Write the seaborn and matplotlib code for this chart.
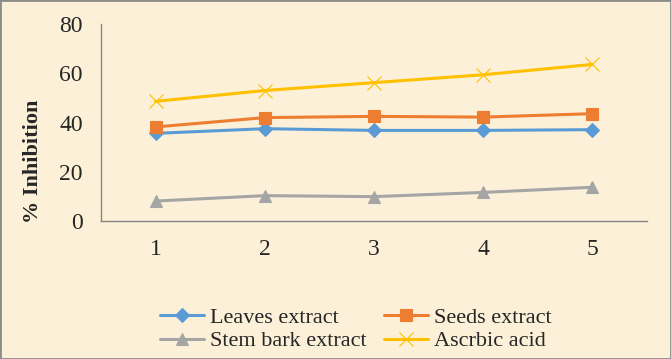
import matplotlib
matplotlib.use("Agg")
import matplotlib.pyplot as plt
import matplotlib.ticker as mticker
import seaborn as sns
import pandas as pd

# data
concentration = [1, 2, 3, 4, 5]
leaves = [35.6, 37.5, 36.8, 36.8, 37.1]
seeds = [38.2, 42.0, 42.5, 42.2, 43.6]
stem_bark = [8.1, 10.3, 9.9, 11.6, 13.7]
ascorbic = [48.6, 53.0, 56.2, 59.4, 63.6]

series_names = ["Leaves extract", "Seeds extract", "Stem bark extract", "Ascrbic acid"]
series_values = [leaves, seeds, stem_bark, ascorbic]
colors = ["#5B9BD5", "#ED7D31", "#A5A5A5", "#FFC000"]
marker_list = ["D", "s", "^", "x"]

sns.set_style("white")
plt.rcParams['font.family'] = ['Liberation Serif', 'DejaVu Serif']

bg = "#FCF1D8"
fig = plt.figure(figsize=(6.71, 3.59), dpi=100, facecolor=bg)
ax = fig.add_axes([0.1505, 0.3844, 0.8135, 0.5486])
ax.set_facecolor("none")

for name, vals, col, mk in zip(series_names, series_values, colors, marker_list):
    d = pd.DataFrame({"x": concentration, "value": vals})
    if mk == "x":
        sns.lineplot(data=d, x="x", y="value", color=col, marker=mk, label=name,
                     linewidth=2.2, markersize=10, markeredgewidth=0.8,
                     markeredgecolor=col, ax=ax)
    else:
        sns.lineplot(data=d, x="x", y="value", color=col, marker=mk, label=name,
                     linewidth=2.2, markersize=7.5 if mk == "D" else 8.5,
                     markeredgecolor=col, markeredgewidth=0.8, ax=ax)

ax.set_xlim(0.5, 5.5)
ax.set_ylim(0, 80)
ax.set_xticks(concentration)
ax.set_xticklabels([str(c) for c in concentration])
ax.xaxis.set_minor_locator(mticker.FixedLocator([0.5, 1.5, 2.5, 3.5, 4.5, 5.5]))
ax.tick_params(axis="x", which="major", length=0, pad=13, labelsize=17)
ax.tick_params(axis="x", which="minor", length=6, width=1, color="#868686", direction="out")
ax.set_yticks([0, 20, 40, 60, 80])
ax.tick_params(axis="y", length=5, width=1, color="#868686", direction="out", labelsize=17, pad=8)
ax.set_xlabel("")
ax.set_ylabel("% Inhibition", fontsize=16, fontweight="bold")
ax.yaxis.set_label_coords(-0.106, 0.305)

for s in ["top", "right"]:
    ax.spines[s].set_visible(False)
for s in ["left", "bottom"]:
    ax.spines[s].set_color("#868686")
    ax.spines[s].set_linewidth(1)

# legend rows: Leaves | Seeds, then Stem bark | Ascorbic
handles, labels = ax.get_legend_handles_labels()
order = [0, 2, 1, 3]
ax.legend([handles[i] for i in order], [labels[i] for i in order], ncol=2,
          loc="center", bbox_to_anchor=(0.53, 0.083),
          bbox_transform=fig.transFigure, frameon=False, fontsize=16,
          handlelength=2.0, handletextpad=0.25, columnspacing=0.8,
          labelspacing=0.15, borderaxespad=0)

# border around the picture
fig.patches.append(plt.Rectangle((0, 0), 1, 1, transform=fig.transFigure,
                                 fill=False, edgecolor="#8C8C8C", linewidth=2))

fig.savefig("out.png", dpi=100, facecolor=bg)
